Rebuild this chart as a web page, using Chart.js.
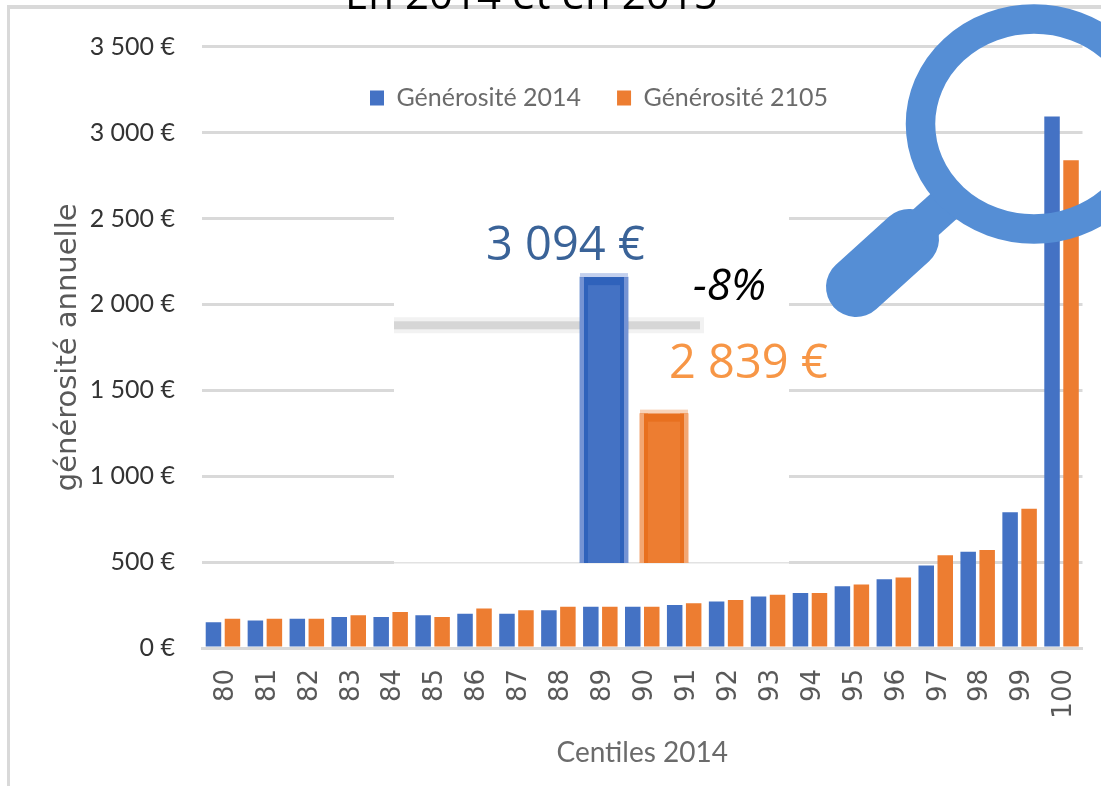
<!DOCTYPE html>
<html lang="fr">
<head>
<meta charset="utf-8">
<script src="https://cdn.jsdelivr.net/npm/chart.js@4"></script>
<style>
html,body{margin:0;padding:0;background:#fff;width:1101px;height:786px;overflow:hidden}
canvas{position:absolute;left:0;top:0}
#frame{position:absolute;left:7px;top:5px;width:1094px;height:781px;border-left:3px solid #d9d9d9;border-top:4px solid #d9d9d9;box-sizing:border-box}
</style>
</head>
<body>
<canvas id="main" width="1101" height="786"></canvas>
<div id="frame"></div>
<canvas id="inset" width="1101" height="786"></canvas>
<script>
const centiles = ['80','81','82','83','84','85','86','87','88','89','90','91','92','93','94','95','96','97','98','99','100'];
const generosite2014 = [150,160,170,180,180,190,200,200,220,240,240,250,270,300,320,360,400,480,560,790,3094];
const generosite2015 = [170,170,170,190,210,180,230,220,240,240,240,260,280,310,320,370,410,540,570,810,2839];
const seriesNames = ['Générosité 2014','Générosité 2105'];
const titleText = 'En 2014 et en 2015';
const axisTitleY = 'générosité annuelle';
const axisTitleX = 'Centiles 2014';

const insetCategories = ['','','','2014','2015'];
const insetValues = [null,null,null,3094,2839];
const insetLabels = ['3 094 €','2 839 €'];
const insetChange = '-8%';
const insetGridValue = 3004;

const BLUE='#4472c4', ORANGE='#ed7d31', GRID='#d9d9d9', RING='#558ed5';
const NARROW='Lato,"Open Sans",sans-serif';

const euro = v => String(v).replace(/\B(?=(\d{3})+$)/g,' ') + ' €';

const moveLegend = {
  id:'moveLegend',
  afterLayout(chart){
    const l = chart.legend;
    l.left = 334; l.right = 1000; l.top = 49.5; l.bottom = 140;
  }
};

new Chart(document.getElementById('main'),{
  type:'bar',
  data:{labels:centiles,datasets:[
    {label:seriesNames[0],data:generosite2014,backgroundColor:BLUE},
    {label:seriesNames[1],data:generosite2015,backgroundColor:ORANGE}
  ]},
  plugins:[moveLegend],
  options:{
    responsive:false,animation:false,
    layout:{padding:{left:0,right:18.5,top:-24.3,bottom:0}},
    datasets:{bar:{categoryPercentage:0.906,barPercentage:0.816}},
    plugins:{
      tooltip:{enabled:false},
      title:{display:false},
      legend:{display:true,position:'top',align:'start',
        labels:{boxWidth:14,boxHeight:15,padding:36,color:'#6b6b6b',font:{family:NARROW,size:25}}}
    },
    scales:{
      x:{
        grid:{display:false},
        border:{display:true,color:GRID,width:3},
        ticks:{minRotation:90,maxRotation:90,autoSkip:false,padding:13,labelOffset:3,color:'#595959',font:{family:'"DejaVu Sans"',size:26}},
        title:{display:true,text:axisTitleX,color:'#6b6b6b',padding:{top:0,bottom:16},font:{family:NARROW,size:28}},
        afterFit(s){s.height=138;s.paddingLeft=0;s.paddingRight=0;}
      },
      y:{
        min:0,max:3500,
        border:{display:false},
        grid:{color:GRID,lineWidth:3,tickLength:0,drawTicks:false},
        ticks:{stepSize:500,padding:27,color:'#333333',callback:euro,font:{family:NARROW,size:25}},
        title:{display:true,text:axisTitleY,color:'#595959',padding:{top:51,bottom:0},font:{family:'"DejaVu Sans"',size:29}},
        afterFit(s){s.width=202;s.paddingTop=0;s.paddingBottom=0;}
      }
    }
  }
});

const insetStyle = {
  3:{halo:'#c3d0ee',side:'#7593d3',dark:'#2f62bb'},
  4:{halo:'#f8d3b8',side:'#f2a774',dark:'#e8701f'}
};
const insetDeco = {
  id:'insetDeco',
  beforeDatasetsDraw(chart){
    const c=chart.ctx, y=chart.scales.y.getPixelForValue(insetGridValue);
    c.save();
    c.fillStyle='#ffffff'; c.fillRect(394,200,395,364);
    c.fillStyle='#e2e2e2'; c.fillRect(394,562,395,1.5);
    c.fillStyle='#f2f2f2'; c.fillRect(394,y-8,310,16);
    c.fillStyle='#d6d6d6'; c.fillRect(394,y-4,306,8);
    c.restore();
  },
  afterDatasetsDraw(chart){
    const c=chart.ctx, bottom=chart.chartArea.bottom;
    c.save();
    chart.getDatasetMeta(0).data.forEach((b,i)=>{
      const st=insetStyle[i]; if(!st) return;
      const w=b.width,l=b.x-w/2,r=b.x+w/2,t=b.y,h=bottom-b.y;
      c.fillStyle=st.halo; c.fillRect(l,t-4,w,4);
      c.fillStyle=st.dark; c.fillRect(l,t,w,8);
      c.fillRect(l+4,t,4,h); c.fillRect(r-8,t,4,h);
      c.fillStyle=st.side; c.fillRect(l,t,4,h); c.fillRect(r-4,t,4,h);
    });
    c.restore();
  },
  afterDraw(chart){
    const c=chart.ctx;
    c.save();
    c.textBaseline='alphabetic';c.textAlign='left';
    c.fillStyle='#000'; c.font='42px "Open Sans"'; c.fillText(titleText,345,9);
    c.fillStyle='#3a6398'; c.font='47px "Open Sans"'; c.fillText(insetLabels[0],486,260);
    c.fillStyle='#f79646'; c.fillText(insetLabels[1],669,378);
    c.fillStyle='#000'; c.font='italic 44px "Open Sans"'; c.fillText(insetChange,693,300);
    // magnifier
    c.strokeStyle=RING; c.lineCap='round';
    c.lineWidth=60; c.beginPath(); c.moveTo(856,287); c.lineTo(909,239); c.stroke();
    c.lineCap='butt'; c.lineWidth=36; c.beginPath(); c.moveTo(915,232); c.lineTo(953,198); c.stroke();
    c.lineWidth=29.5; c.beginPath(); c.ellipse(1034,124,113.5,105,0,0,Math.PI*2); c.stroke();
    c.restore();
  }
};

new Chart(document.getElementById('inset'),{
  type:'bar',
  data:{labels:insetCategories,datasets:[{
    data:insetValues,
    backgroundColor:[BLUE,BLUE,BLUE,BLUE,ORANGE],
    barThickness:48
  }]},
  plugins:[insetDeco],
  options:{
    responsive:false,animation:false,
    layout:{padding:{left:394,right:407,top:200,bottom:223}},
    plugins:{legend:{display:false},tooltip:{enabled:false},title:{display:false}},
    scales:{
      x:{display:false},
      y:{display:false,min:2560,max:3238}
    }
  }
});
</script>
</body>
</html>
